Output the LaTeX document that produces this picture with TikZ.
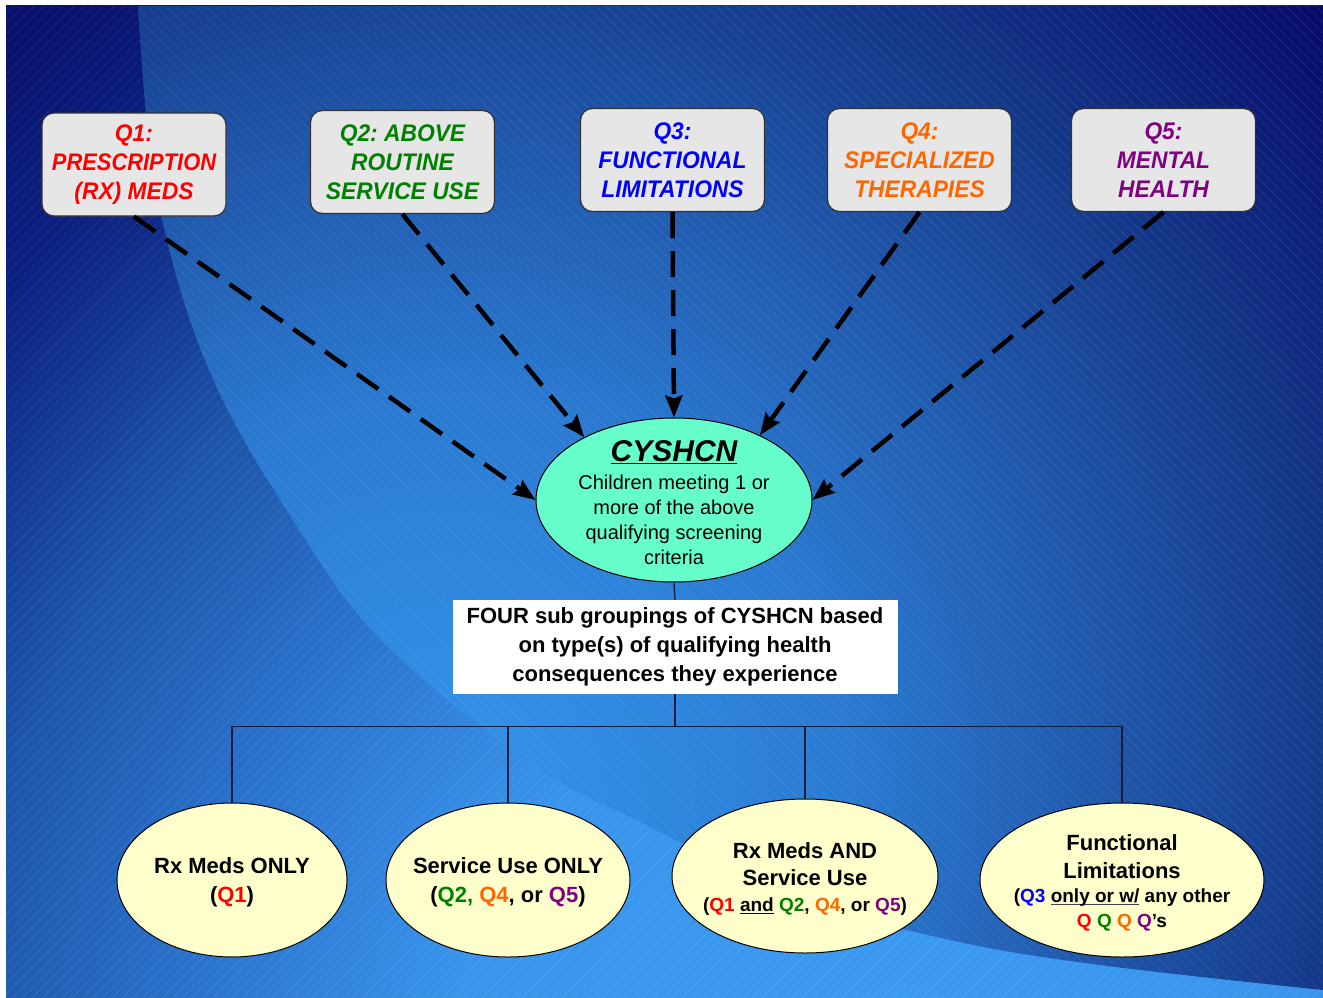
\documentclass[tikz,border=0pt]{standalone}
\usepackage{fontspec}
\setmainfont{Liberation Sans}
\newfontfamily\condfont{Liberation Sans}[FakeStretch=0.95]
\usetikzlibrary{arrows.meta,shapes.geometric}
\frenchspacing
\definecolor{qred}{HTML}{FF0000}
\definecolor{qgreen}{HTML}{008000}
\definecolor{qblue}{HTML}{0000FF}
\definecolor{qorange}{HTML}{FF6600}
\definecolor{qpurple}{HTML}{800080}
\definecolor{aqua}{HTML}{66FFCC}
\definecolor{cream}{HTML}{FFFFCC}
\definecolor{boxgray}{HTML}{E6E6E6}
\definecolor{treeline}{HTML}{141E3C}
\definecolor{ulgray}{HTML}{444444}
% outer region: light toward the bottom right, navy toward the top left
\pgfdeclareradialshading{outrad}{\pgfpoint{0bp}{0bp}}{%
  rgb(0bp)=(0.235,0.604,0.949); rgb(450bp)=(0.224,0.580,0.925);
  rgb(716bp)=(0.165,0.447,0.800); rgb(943bp)=(0.114,0.333,0.659);
  rgb(1200bp)=(0.047,0.125,0.502); rgb(1400bp)=(0.031,0.063,0.416);
  rgb(1700bp)=(0.031,0.063,0.416)}
% inner region: light near the lower-left arc, navy toward the top right
\pgfdeclareradialshading{inrad}{\pgfpoint{0bp}{0bp}}{%
  rgb(0bp)=(0.200,0.584,0.933); rgb(400bp)=(0.165,0.478,0.824);
  rgb(720bp)=(0.110,0.310,0.635); rgb(880bp)=(0.078,0.220,0.540);
  rgb(1180bp)=(0.024,0.031,0.416); rgb(1400bp)=(0.024,0.031,0.416)}
\newcommand{\arcpts}{(138,6) (150,150) (176,275) (218,390) (286,509) (378,637) (531,764) (638,821) (800,898) (950,940) (1100,965) (1323,990)}
\newcommand{\myul}[2][black]{\setbox0\hbox{#2}\rlap{\textcolor{#1}{\rule[-2.5pt]{\wd0}{1.3pt}}}\box0\relax}
\newcommand{\ctext}[2][0pt]{\smash{\raisebox{#1}{\makebox[0pt]{\begin{tabular}{@{}c@{}}#2\end{tabular}}}}}
\begin{document}
\begin{tikzpicture}[x=1pt,y=-1pt,
  qbox/.style={draw=black!80, fill=boxgray, rounded corners=12pt, line width=1.2pt,
    minimum width=184pt, minimum height=103pt, align=center, inner sep=0pt,
    font=\condfont\bfseries\itshape\fontsize{24}{29}\selectfont},
  bell/.style={ellipse, draw=black, fill=cream, line width=1pt, inner sep=0pt,
    font=\bfseries\fontsize{22}{28}\selectfont},
  dasharrow/.style={line width=4.5pt, dash pattern=on 26pt off 13pt,
    -{Stealth[length=22pt, width=17pt, inset=3pt]}},
  tree/.style={draw=treeline, line width=1.3pt},
  hatch/.style={white, opacity=0.1, line width=0.7pt},
  bgshade/.style={inner sep=0pt, outer sep=0pt}
]
\useasboundingbox (0,0) rectangle (1323,998);
\fill[white] (0,0) rectangle (1323,998);
% outer background
\begin{scope}
  \clip (6,6) rectangle (1323,997);
  \node[bgshade] (outbg) at (900,1100) {\pgfuseshading{outrad}};
  \foreach \c in {0,10,...,2340} \draw[hatch] (\c,0) -- (\c-1000,1000);
\end{scope}
% inner lighter region
\begin{scope}
  \clip plot[smooth, tension=0.6] coordinates {\arcpts} -- (1323,6) -- cycle;
  \node[bgshade] (inbg) at (450,800) {\pgfuseshading{inrad}};
  \foreach \c in {-1000,-990,...,1330} \draw[hatch] (\c,0) -- (\c+1000,1000);
\end{scope}

% top boxes
\node[qbox, text=qred] (q1) at (134,164.5) {Q1:\\\scalebox{0.96}[1]{PRESCRIPTION}\\(RX) MEDS};
\node[qbox, text=qgreen] (q2) at (402.5,162) {Q2: ABOVE\\ROUTINE\\SERVICE USE};
\node[qbox, text=qblue] (q3) at (672.5,160) {Q3:\\FUNCTIONAL\\LIMITATIONS};
\node[qbox, text=qorange] (q4) at (919.5,160) {Q4:\\SPECIALIZED\\THERAPIES};
\node[qbox, text=qpurple] (q5) at (1163.5,160) {Q5:\\MENTAL\\HEALTH};

% central ellipse
\node[ellipse, draw=black, fill=aqua, line width=1pt, minimum width=276pt, minimum height=164pt,
  inner sep=0pt, font=\fontsize{20}{25}\selectfont] (cys) at (674,500)
  {\ctext[-11.5pt]{{\fontsize{30}{30}\selectfont\bfseries\itshape\myul{CYSHCN}}\\[3pt]
   Children meeting 1 or\\more of the above\\qualifying screening\\criteria}};

% white box
\node[fill=white, minimum width=445pt, minimum height=94pt, inner sep=0pt, align=center,
  font=\bfseries\fontsize{22}{29}\selectfont] (fb) at (675,647)
  {FOUR sub groupings of CYSHCN based\\on type(s) of qualifying health\\consequences they experience};

% bottom ellipses
\node[bell, minimum width=230pt, minimum height=154pt] (e1) at (232,880)
  {\ctext[-7.5pt]{Rx Meds ONLY\\[1pt](\textcolor{qred}{Q1})}};
\node[bell, minimum width=244pt, minimum height=154pt] (e2) at (508,880)
  {\ctext[-7.5pt]{Service Use ONLY\\[1pt](\textcolor{qgreen}{Q2,} \textcolor{qorange}{Q4}, or \textcolor{qpurple}{Q5})}};
\node[bell, minimum width=266pt, minimum height=154pt] (e3) at (805,876)
  {\ctext[-8.7pt]{Rx Meds AND\\[-1pt]Service Use\\[-2pt]{\fontsize{19}{24}\selectfont(\textcolor{qred}{Q1} \myul{and} \textcolor{qgreen}{Q2}, \textcolor{qorange}{Q4}, or \textcolor{qpurple}{Q5})}}};
\node[bell, minimum width=284pt, minimum height=154pt] (e4) at (1122,880)
  {\ctext[-8.4pt]{Functional\\Limitations\\[-4pt]{\fontsize{19}{24}\selectfont(\textcolor{qblue}{Q3} \myul[ulgray]{only or w/} any other}\\[-3pt]
   {\fontsize{19}{24}\selectfont\textcolor{qred}{Q} \textcolor{qgreen}{Q} \textcolor{qorange}{Q} \textcolor{qpurple}{Q}’s}}};

% dashed arrows
\draw[dasharrow] (q1.south) -- (cys.west);
\draw[dasharrow] (q2.south) -- (cys.145);
\draw[dasharrow] (q3.south) -- (cys.north);
\draw[dasharrow] (q4.south) -- (cys.37);
\draw[dasharrow] (q5.south) -- (cys.east);

% tree connectors
\path (fb.south) ++(0,32) coordinate (bus);
\draw[tree] (cys.south) -- (fb.north);
\draw[tree] (fb.south) -- (bus);
\draw[tree] (e1.north) |- (bus) -| (e4.north);
\draw[tree] (e2.north) -- (e2.north |- bus);
\draw[tree] (e3.north) -- (e3.north |- bus);
\end{tikzpicture}
\end{document}
